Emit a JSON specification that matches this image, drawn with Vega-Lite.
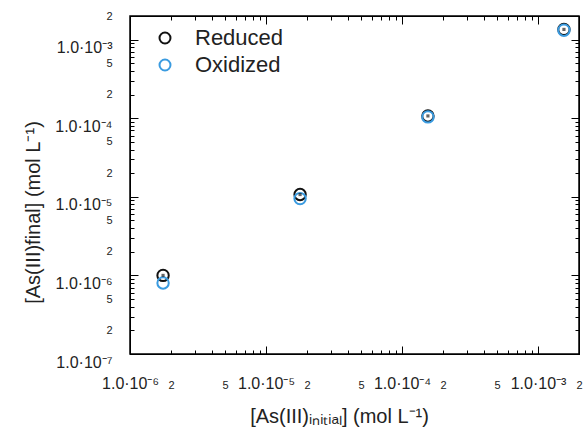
{
  "$schema": "https://vega.github.io/schema/vega-lite/v6.json",
  "width": 449,
  "height": 338,
  "autosize": {"type": "none"},
  "padding": {"left": 130, "top": 16, "right": 8, "bottom": 78},
  "background": "white",
  "config": {
    "view": {"stroke": "black", "strokeWidth": 1.5},
    "font": "Liberation Sans",
    "axis": {"grid": false, "labelColor": "#222", "labelFont": "Liberation Sans", "titleFont": "Liberation Sans", "titleColor": "#222", "titleFontWeight": "normal", "titleFontSize": 20, "labelOverlap": false, "labelFlush": false, "labelBound": false}
  },
  "data": {
    "values": [
      {"state": "Reduced", "initial": 0.00000175, "final": 0.000001},
      {"state": "Reduced", "initial": 0.0000178, "final": 0.0000107},
      {"state": "Reduced", "initial": 0.000155, "final": 0.000107},
      {"state": "Reduced", "initial": 0.00155, "final": 0.00135},
      {"state": "Oxidized", "initial": 0.00000175, "final": 0.0000008},
      {"state": "Oxidized", "initial": 0.0000178, "final": 0.0000095},
      {"state": "Oxidized", "initial": 0.000155, "final": 0.000104},
      {"state": "Oxidized", "initial": 0.00155, "final": 0.00132}
    ]
  },
  "resolve": {"axis": {"x": "independent", "y": "independent"}},
  "layer": [
    {
      "mark": {"type": "point", "filled": false, "strokeWidth": 2, "size": 130, "opacity": 1},
      "encoding": {
        "x": {
          "field": "initial", "type": "quantitative",
          "scale": {"type": "log", "domain": [0.000001, 0.002], "nice": false},
          "axis": {
            "orient": "bottom",
            "tickSize": -4, "tickColor": "black",
            "domainColor": "black",
            "values": [0.000001,0.000002,0.000003,0.000004,0.000005,0.000006,0.000007,0.000008,0.000009,0.00001,0.00002,0.00003,0.00004,0.00005,0.00006,0.00007,0.00008,0.00009,0.0001,0.0002,0.0003,0.0004,0.0005,0.0006,0.0007,0.0008,0.0009,0.001,0.002],
            "labelExpr": "datum.value == 0.000001 ? '1.0·10⁻⁶' : datum.value == 0.00001 ? '1.0·10⁻⁵' : datum.value == 0.0001 ? '1.0·10⁻⁴' : datum.value == 0.001 ? '1.0·10⁻³' : (slice(format(datum.value,'.0e'),0,1) == '2' || slice(format(datum.value,'.0e'),0,1) == '5') ? slice(format(datum.value,'.0e'),0,1) : ''",
            "labelFontSize": {"condition": {"test": "slice(format(datum.value,'.0e'),0,1) == '1'", "value": 16}, "value": 11},
            "labelBaseline": "alphabetic",
            "labelPadding": 38,
            "title": "[As(III)ᵢₙᵢₜᵢₐₗ] (mol L⁻¹)",
            "titleX": 209,
            "titleY": 68,
            "titleBaseline": "alphabetic"
          }
        },
        "y": {
          "field": "final", "type": "quantitative",
          "scale": {"type": "log", "domain": [0.0000001, 0.002], "nice": false},
          "axis": {
            "orient": "left",
            "tickSize": -4, "tickColor": "black",
            "domainColor": "black",
            "values": [0.0000001,0.0000002,0.0000003,0.0000004,0.0000005,0.0000006,0.0000007,0.0000008,0.0000009,0.000001,0.000002,0.000003,0.000004,0.000005,0.000006,0.000007,0.000008,0.000009,0.00001,0.00002,0.00003,0.00004,0.00005,0.00006,0.00007,0.00008,0.00009,0.0001,0.0002,0.0003,0.0004,0.0005,0.0006,0.0007,0.0008,0.0009,0.001,0.002],
            "labelExpr": "datum.value == 0.0000001 ? '1.0·10⁻⁷' : datum.value == 0.000001 ? '1.0·10⁻⁶' : datum.value == 0.00001 ? '1.0·10⁻⁵' : datum.value == 0.0001 ? '1.0·10⁻⁴' : datum.value == 0.001 ? '1.0·10⁻³' : (slice(format(datum.value,'.0e'),0,1) == '2' || slice(format(datum.value,'.0e'),0,1) == '5') ? slice(format(datum.value,'.0e'),0,1) : ''",
            "labelFontSize": {"condition": {"test": "slice(format(datum.value,'.0e'),0,1) == '1'", "value": 16}, "value": 11},
            "labelBaseline": {"condition": {"test": "slice(format(datum.value,'.0e'),0,1) == '1'", "value": "top"}, "value": "middle"},
            "labelPadding": 22,
            "title": "[As(III)final] (mol L⁻¹)",
            "titleX": -97,
            "titleY": 196,
            "titleAngle": -90,
            "titleAlign": "center",
            "titleBaseline": "middle"
          }
        },
        "color": {
          "field": "state", "type": "nominal",
          "scale": {"domain": ["Reduced", "Oxidized"], "range": ["#111111", "#3a9be0"]},
          "legend": {"orient": "none", "legendX": 24, "legendY": 11, "title": null, "labelFontSize": 22, "labelColor": "#222", "labelFont": "Liberation Sans", "symbolSize": 120, "symbolStrokeWidth": 2, "symbolType": "circle", "labelOffset": 19, "rowPadding": 5}
        }
      }
    },
    {
      "transform": [{"filter": "datum.state == 'Reduced'"}],
      "mark": {"type": "point", "shape": "square", "filled": true, "size": 10, "color": "#222"},
      "encoding": {
        "x": {"field": "initial", "type": "quantitative", "axis": null},
        "y": {"field": "final", "type": "quantitative", "axis": null}
      }
    },
    {
      "mark": {"type": "point", "opacity": 0},
      "encoding": {
        "x": {
          "field": "initial", "type": "quantitative",
          "axis": {
            "orient": "top", "labels": false, "title": null, "tickSize": -4, "tickColor": "black", "domainColor": "black",
            "values": [0.000001,0.000002,0.000003,0.000004,0.000005,0.000006,0.000007,0.000008,0.000009,0.00001,0.00002,0.00003,0.00004,0.00005,0.00006,0.00007,0.00008,0.00009,0.0001,0.0002,0.0003,0.0004,0.0005,0.0006,0.0007,0.0008,0.0009,0.001,0.002]
          }
        },
        "y": {
          "field": "final", "type": "quantitative",
          "axis": {
            "orient": "right", "labels": false, "title": null, "tickSize": -4, "tickColor": "black", "domainColor": "black",
            "values": [0.0000001,0.0000002,0.0000003,0.0000004,0.0000005,0.0000006,0.0000007,0.0000008,0.0000009,0.000001,0.000002,0.000003,0.000004,0.000005,0.000006,0.000007,0.000008,0.000009,0.00001,0.00002,0.00003,0.00004,0.00005,0.00006,0.00007,0.00008,0.00009,0.0001,0.0002,0.0003,0.0004,0.0005,0.0006,0.0007,0.0008,0.0009,0.001,0.002]
          }
        }
      }
    },
    {
      "mark": {"type": "point", "opacity": 0},
      "encoding": {
        "x": {
          "field": "initial", "type": "quantitative",
          "axis": {"orient": "bottom", "labels": false, "title": null, "domain": false, "tickSize": -8, "tickColor": "black", "values": [0.000001, 0.00001, 0.0001, 0.001]}
        },
        "y": {
          "field": "final", "type": "quantitative",
          "axis": {"orient": "left", "labels": false, "title": null, "domain": false, "tickSize": -8, "tickColor": "black", "values": [0.0000001, 0.000001, 0.00001, 0.0001, 0.001]}
        }
      }
    },
    {
      "mark": {"type": "point", "opacity": 0},
      "encoding": {
        "x": {
          "field": "initial", "type": "quantitative",
          "axis": {"orient": "top", "labels": false, "title": null, "domain": false, "tickSize": -8, "tickColor": "black", "values": [0.000001, 0.00001, 0.0001, 0.001]}
        },
        "y": {
          "field": "final", "type": "quantitative",
          "axis": {"orient": "right", "labels": false, "title": null, "domain": false, "tickSize": -8, "tickColor": "black", "values": [0.0000001, 0.000001, 0.00001, 0.0001, 0.001]}
        }
      }
    }
  ]
}
